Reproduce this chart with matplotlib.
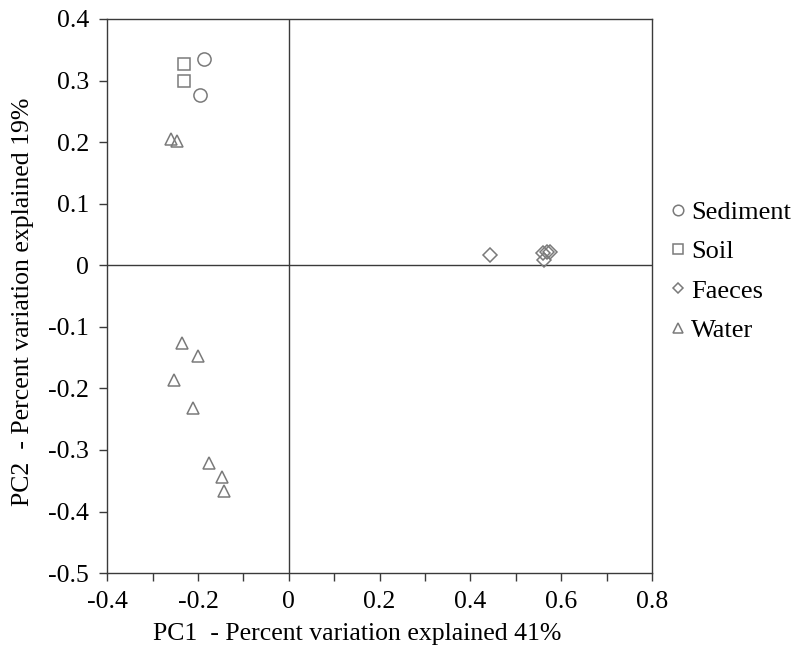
import numpy as np
import matplotlib.pyplot as plt
from matplotlib.ticker import MultipleLocator

plt.rcParams['font.family'] = ['Liberation Serif', 'DejaVu Serif']

# PCA scores
sediment_x = [-0.187, -0.196]
sediment_y = [0.335, 0.277]
soil_x = [-0.231, -0.231]
soil_y = [0.327, 0.300]
faeces_x = [0.443, 0.560, 0.568, 0.575, 0.562]
faeces_y = [0.017, 0.020, 0.022, 0.022, 0.008]
water_x = [-0.260, -0.247, -0.236, -0.200, -0.253, -0.211, -0.176, -0.148, -0.143]
water_y = [0.205, 0.202, -0.126, -0.147, -0.187, -0.231, -0.321, -0.344, -0.366]

groups = [
    ("Sediment", sediment_x, sediment_y, "o"),
    ("Soil", soil_x, soil_y, "s"),
    ("Faeces", faeces_x, faeces_y, "D"),
    ("Water", water_x, water_y, "^"),
]
sizes = {"o": 9.5, "s": 8.5, "D": 7, "^": 9}

fig = plt.figure(figsize=(8, 6.68), dpi=100)
ax = fig.add_axes([0.134, 0.142, 0.681, 0.8296])

line_col = "#3a3a3a"
ax.axhline(0, color=line_col, lw=1.0, zorder=1)
ax.axvline(0, color=line_col, lw=1.0, zorder=1)

for name, xs, ys, m in groups:
    ax.plot(xs, ys, linestyle="none", marker=m, markersize=sizes[m],
            markerfacecolor="none", markeredgecolor="#7a7a7a",
            markeredgewidth=1.1, label=name, zorder=3)

ax.set_xlim(-0.4, 0.8)
ax.set_ylim(-0.5, 0.4)
ax.xaxis.set_major_locator(MultipleLocator(0.2))
ax.xaxis.set_minor_locator(MultipleLocator(0.1))
ax.yaxis.set_major_locator(MultipleLocator(0.1))
fmt = plt.FuncFormatter(lambda v, p: "0" if abs(v) < 1e-9 else f"{v:.1f}")
ax.xaxis.set_major_formatter(fmt)
ax.yaxis.set_major_formatter(fmt)
ax.tick_params(which="both", direction="out", color=line_col, labelsize=18.5, width=1.0)
ax.tick_params(which="major", length=6, pad=7)
ax.tick_params(which="minor", length=6)
for s in ax.spines.values():
    s.set_color(line_col)
    s.set_linewidth(1.0)

ax.set_xlabel("PC1  - Percent variation explained 41%", fontsize=18.5)
ax.set_ylabel("PC2  - Percent variation explained 19%", fontsize=18.5)
# the labels sit a bit off-centre in the original
ax.xaxis.set_label_coords(0.459, -0.09)
ax.yaxis.set_label_coords(-0.134, 0.489)

leg = ax.legend(loc="center left", bbox_to_anchor=(1.014, 0.545), frameon=False,
                fontsize=19, handlelength=0.6, handletextpad=0.2,
                labelspacing=0.6, markerscale=0.8, borderaxespad=0.0)

fig.savefig("out.png", dpi=100)
